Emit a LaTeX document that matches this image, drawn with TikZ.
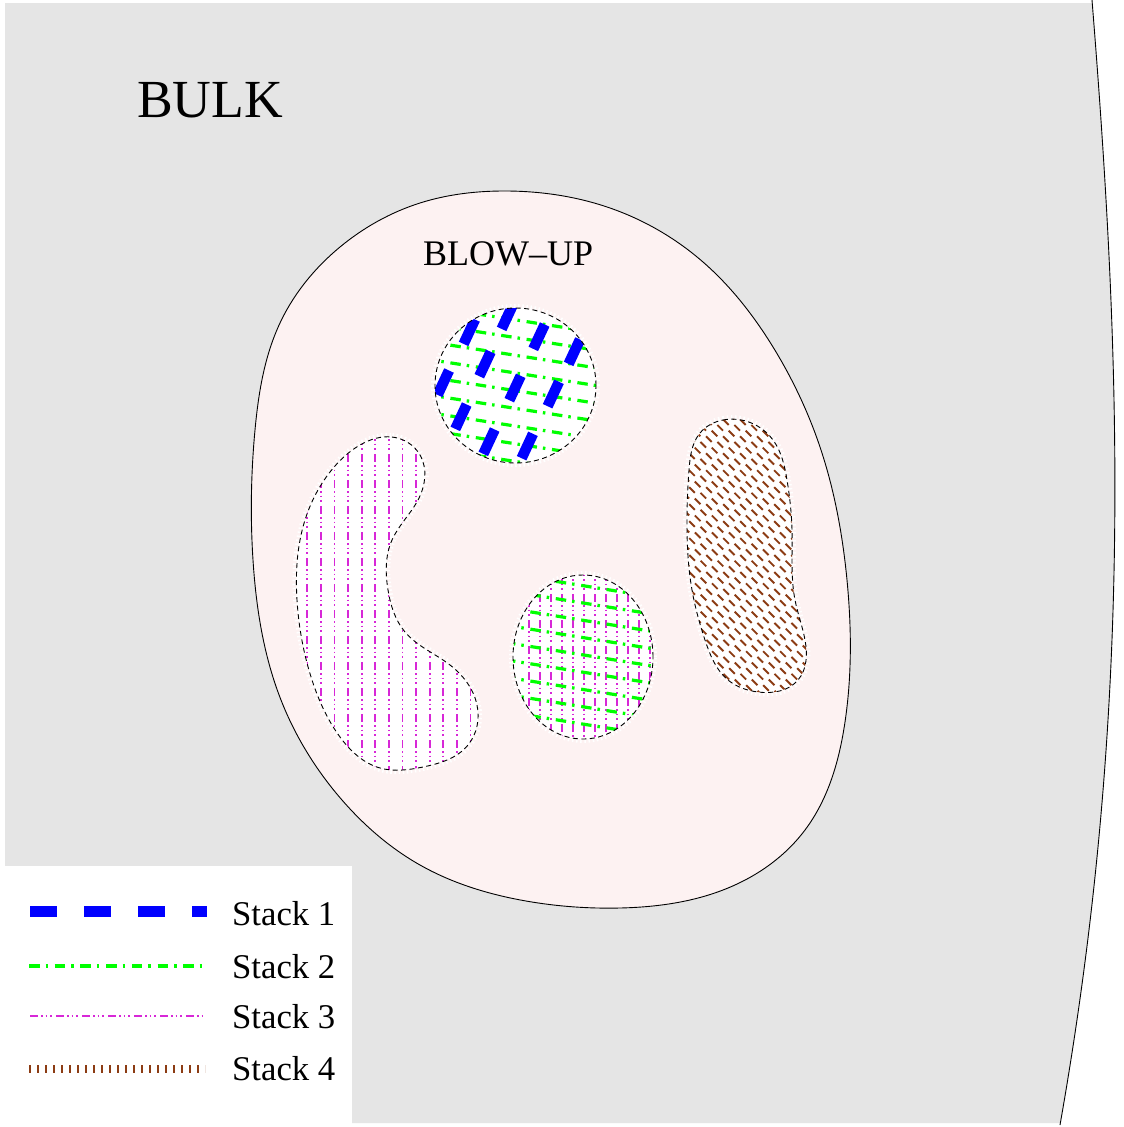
\documentclass[tikz,border=0pt]{standalone}
\usepackage{fontspec}
\setmainfont{Liberation Serif}
\usetikzlibrary{hobby}
\definecolor{bulkgray}{RGB}{229,229,229}
\definecolor{blowpink}{RGB}{253,242,242}
\definecolor{sOne}{RGB}{0,0,255}
\definecolor{sTwo}{RGB}{0,255,0}
\definecolor{sThree}{RGB}{215,40,215}
\definecolor{sFour}{RGB}{140,60,20}
\begin{document}
\begin{tikzpicture}[x=1pt,y=-1pt,
  stackone/.style={draw=sOne, line width=10.5pt, line cap=butt},
  stackonelegend/.style={draw=sOne, line width=11pt, dash pattern=on 27pt off 27pt},
  stacktwo/.style={draw=sTwo, line width=3.2pt, dash pattern=on 10.5pt off 6pt on 2.5pt off 6.7pt},
  stackthree/.style={draw=sThree, line width=1.8pt, dash pattern=on 8pt off 3pt on 1.5pt off 3pt on 1.5pt off 3pt on 1.5pt off 4.5pt},
  stackfour/.style={draw=sFour, line width=8pt, dash pattern=on 1.9pt off 6.1pt},
  blobline/.style={draw=black, line width=0.9pt, dash pattern=on 5pt off 3.5pt},
  halo/.style={draw=white, line width=8pt, dash pattern=on 1.5pt off 2.5pt},
  bigtext/.style={anchor=base west, inner sep=0pt, font=\fontsize{53.6}{60}\selectfont},
  midtext/.style={anchor=base west, inner sep=0pt, font=\fontsize{36}{42}\selectfont},
  legtext/.style={anchor=base west, inner sep=0pt, font=\fontsize{34.7}{40}\selectfont}
]
\useasboundingbox (0,0) rectangle (1124,1127);
\fill[white] (0,0) rectangle (1124,1127);

% BULK region
\fill[bulkgray] (5,3) -- (1092,3) .. controls (1120,350) and (1135,700) .. (1060,1123)
  -- (352,1123) -- (352,866) -- (5,866) -- cycle;
\coordinate (edgetop) at (1092,0);
\coordinate (edgebot) at (1060,1125);
\draw[line width=0.9pt] (edgetop) .. controls (1120,350) and (1135,700) .. (edgebot);

% BLOW-UP region
\def\blowup{plot[closed hobby] coordinates {(507,191) (610,208) (703,262) (773,347) (820,447) (847,580) (845,722) (805,830) (728,888) (620,908) (526,901) (420,865) (342,800) (281,700) (253,560) (255,430) (280,323) (340,247) (420,203)}}
\fill[blowpink] \blowup;
\draw[line width=0.9pt] \blowup;

% blob shapes
\def\blobtop{(515.5,385.5) ellipse [x radius=80.5pt, y radius=77.5pt]}
\def\blobmid{(583,657) ellipse [x radius=70pt, y radius=82pt]}
\def\blobleft{plot[closed hobby] coordinates {(392,437) (420,455) (418,500) (392,540) (388,590) (405,632) (450,665) (477,705) (468,745) (423,767) (380,768) (340,737) (312,680) (297,600) (305,520) (330,472) (360,445)}}
\def\blobright{plot[closed hobby] coordinates {(723,420) (773,440) (787,480) (792,530) (795,600) (805,640) (798,680) (758,692) (728,680) (705,640) (692,590) (687,530) (689,470) (700,433)}}

% halos
\draw[halo] \blobtop;
\draw[halo] \blobmid;
\draw[halo] \blobleft;
\draw[halo] \blobright;

% top blob: stack 2 + stack 1
\fill[white] \blobtop;
\begin{scope}
  \clip \blobtop;
  \foreach \k in {-6,...,6}
    \draw[stacktwo] (425,{373+17.7*\k-14.1}) -- (610,{373+17.7*\k+14.7});
  \foreach \cx/\cy in {469.3/331.7, 443.3/382.7, 507.3/316.7, 485/364, 461/416.7,
                       539/336.7, 515/388, 489/441.7, 574.3/351.7, 553.3/394, 527.3/446}
    \draw[stackone] ({\cx+5.7},{\cy-12.2}) -- ({\cx-5.7},{\cy+12.2});
\end{scope}
\draw[blobline] \blobtop;

% middle blob: stack 3 + stack 2
\fill[white] \blobmid;
\begin{scope}
  \clip \blobmid;
  \foreach \k in {0,...,11}
    \draw[stackthree] ({529+11*\k},568) -- ({529+11*\k},748);
  \foreach \k in {-6,...,6}
    \draw[stacktwo] (505,{637.6+17.3*\k-12.5}) -- (660,{637.6+17.3*\k+12.3});
\end{scope}
\draw[blobline] \blobmid;

% left blob: stack 3
\fill[white] \blobleft;
\begin{scope}
  \clip \blobleft;
  \foreach \k in {0,...,13}
    \draw[stackthree] ({307.3+13.6*\k},428) -- ({307.3+13.6*\k},775);
\end{scope}
\draw[blobline] \blobleft;

% right blob: stack 4
\fill[white] \blobright;
\begin{scope}
  \clip \blobright;
  \foreach \k in {2,...,25}
    \draw[stackfour] ({380+17*\k},700) -- ({680+17*\k},400);
\end{scope}
\draw[blobline] \blobright;

% labels
\node[bigtext] (bulk) at (137,117) {BULK};
\node[midtext] (blow) at (423,265) {BLOW--UP};

% legend
\fill[white] (0,866) rectangle (352,1127);
\coordinate (l1a) at (30,911);   \coordinate (l1b) at (207,911);
\coordinate (l2a) at (29,966);   \coordinate (l2b) at (202,966);
\coordinate (l3a) at (30,1016);  \coordinate (l3b) at (203,1016);
\coordinate (l4a) at (29,1069);  \coordinate (l4b) at (205,1069);
\draw[stackonelegend] (l1a) -- (l1b);
\draw[stacktwo] (l2a) -- (l2b);
\draw[stackthree] (l3a) -- (l3b);
\draw[stackfour] (l4a) -- (l4b);
\node[legtext] (t1) at (232,925) {Stack 1};
\node[legtext] (t2) at (232,978) {Stack 2};
\node[legtext] (t3) at (232,1028) {Stack 3};
\node[legtext] (t4) at (232,1080) {Stack 4};
\end{tikzpicture}
\end{document}
